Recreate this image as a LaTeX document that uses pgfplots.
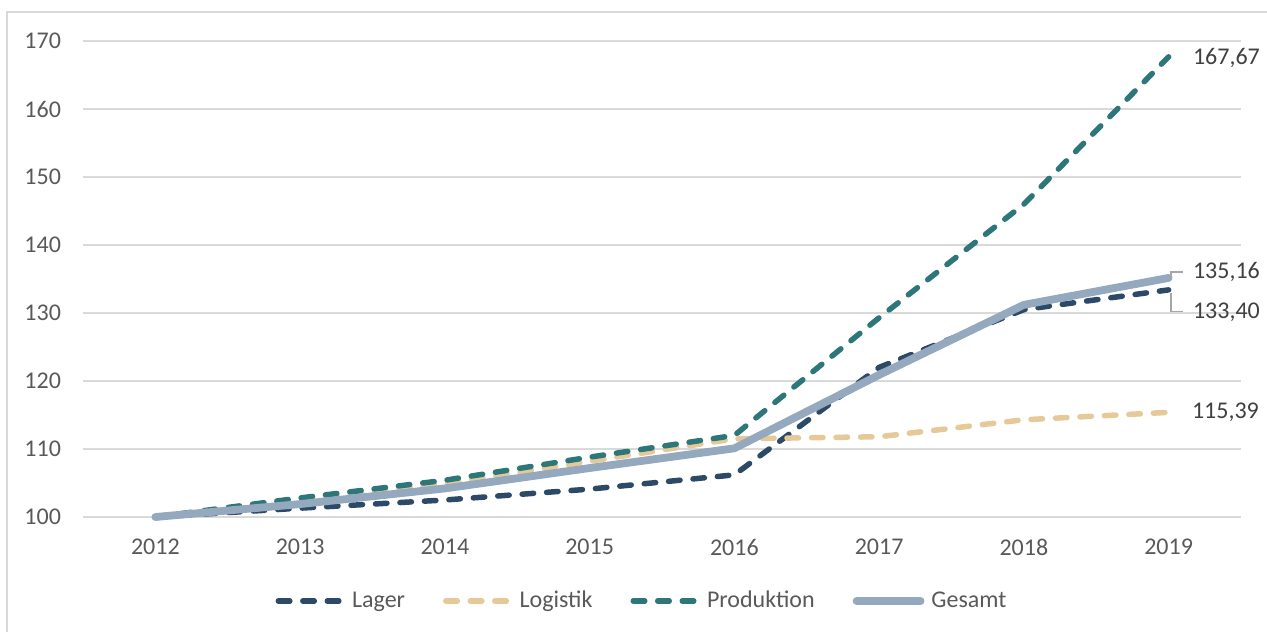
\documentclass[border=0pt]{standalone}
\usepackage{fontspec}
\setmainfont{Carlito}
\usepackage{pgfplots}
\pgfplotsset{compat=1.18}

\definecolor{lager}{HTML}{2C4A67}
\definecolor{logistik}{HTML}{E6C998}
\definecolor{produktion}{HTML}{2D767A}
\definecolor{gesamt}{HTML}{94A9BE}
\definecolor{gridgray}{HTML}{D9D9D9}
\definecolor{tickgray}{HTML}{595959}
\definecolor{labelgray}{HTML}{404040}
\definecolor{leadergray}{HTML}{A6A6A6}

\begin{document}
\begin{tikzpicture}
\useasboundingbox (0,0) rectangle (633.5pt,315.5pt);
\draw[gridgray, line width=0.75pt] (3.5pt,-5pt) -- (3.5pt,309.6pt) -- (640pt,309.6pt);

\begin{axis}[
  at={(41.5pt,57pt)}, anchor=south west,
  scale only axis, width=579pt, height=238pt,
  xmin=-0.5, xmax=7.5, ymin=100, ymax=170,
  xtick={0,1,2,3,4,5,6,7},
  xticklabels={2012,2013,2014,2015,2016,2017,2018,2019},
  ytick={100,110,120,130,140,150,160,170},
  ymajorgrids=true,
  grid style={gridgray, line width=0.75pt},
  axis line style={draw=none},
  major tick length=0pt,
  /pgf/number format/assume math mode=true,
  tick label style={font=\fontsize{12}{14}\selectfont, text=tickgray},
  yticklabel style={xshift=-7.5pt},
  xticklabel style={yshift=-7.5pt},
  clip=false,
  legend columns=4,
  legend style={at={(0.4836,-0.1765)}, anchor=center, draw=none, fill=none,
    font=\fontsize{12}{14}\selectfont, text=tickgray,
    /tikz/every odd column/.append style={column sep=1.5pt},
    /tikz/every even column/.append style={column sep=17pt}},
  legend image code/.code={\draw[#1] (0pt,0pt) -- (32pt,0pt);},
  dashline/.style={line width=2.75pt, line cap=round, dash pattern=on 5.75pt off 6.5pt},
]

% Lager
\addplot[lager, dashline] coordinates {
  (0,100) (1,101.3) (2,102.5) (3,104.1) (4,106.2) (5,122.0) (6,130.5) (7,133.40)};
\addlegendentry{Lager}

% Logistik
\addplot[logistik, dashline] coordinates {
  (0,100) (1,102.4) (2,104.9) (3,108.2) (4,111.5) (5,111.8) (6,114.3) (7,115.39)};
\addlegendentry{Logistik}

% Produktion
\addplot[produktion, dashline] coordinates {
  (0,100) (1,102.8) (2,105.4) (3,108.8) (4,112.0) (5,129.3) (6,146.0) (7,167.67)};
\addlegendentry{Produktion}

% Gesamt
\addplot[gesamt, line width=3.9pt, line cap=round, line join=round] coordinates {
  (0,100) (1,101.9) (2,104.2) (3,107.2) (4,110.1) (5,120.9) (6,131.2) (7,135.16)};
\addlegendentry{Gesamt}

% end labels
\node[anchor=west, inner sep=0pt, text=labelgray, font=\fontsize{12}{14}\selectfont]
  at ([xshift=12pt,yshift=-0.5pt]axis cs:7,167.67) {167,67};
\node[anchor=west, inner sep=0pt, text=labelgray, font=\fontsize{12}{14}\selectfont]
  at ([xshift=12pt,yshift=3pt]axis cs:7,135.16) {135,16};
\node[anchor=west, inner sep=0pt, text=labelgray, font=\fontsize{12}{14}\selectfont]
  at ([xshift=12pt,yshift=-11pt]axis cs:7,133.40) {133,40};
\node[anchor=west, inner sep=0pt, text=labelgray, font=\fontsize{12}{14}\selectfont]
  at ([xshift=11.5pt]axis cs:7,115.39) {115,39};

% leader lines
\draw[leadergray, line width=0.6pt]
  ([xshift=1.2pt,yshift=0.5pt]axis cs:7,135.16) -- ([xshift=1.2pt,yshift=3pt]axis cs:7,135.16)
  -- ([xshift=7pt,yshift=3pt]axis cs:7,135.16);
\draw[leadergray, line width=0.6pt]
  ([xshift=1.2pt,yshift=-1.5pt]axis cs:7,133.40) -- ([xshift=1.2pt,yshift=-11pt]axis cs:7,133.40)
  -- ([xshift=7pt,yshift=-11pt]axis cs:7,133.40);
\end{axis}
\end{tikzpicture}
\end{document}
